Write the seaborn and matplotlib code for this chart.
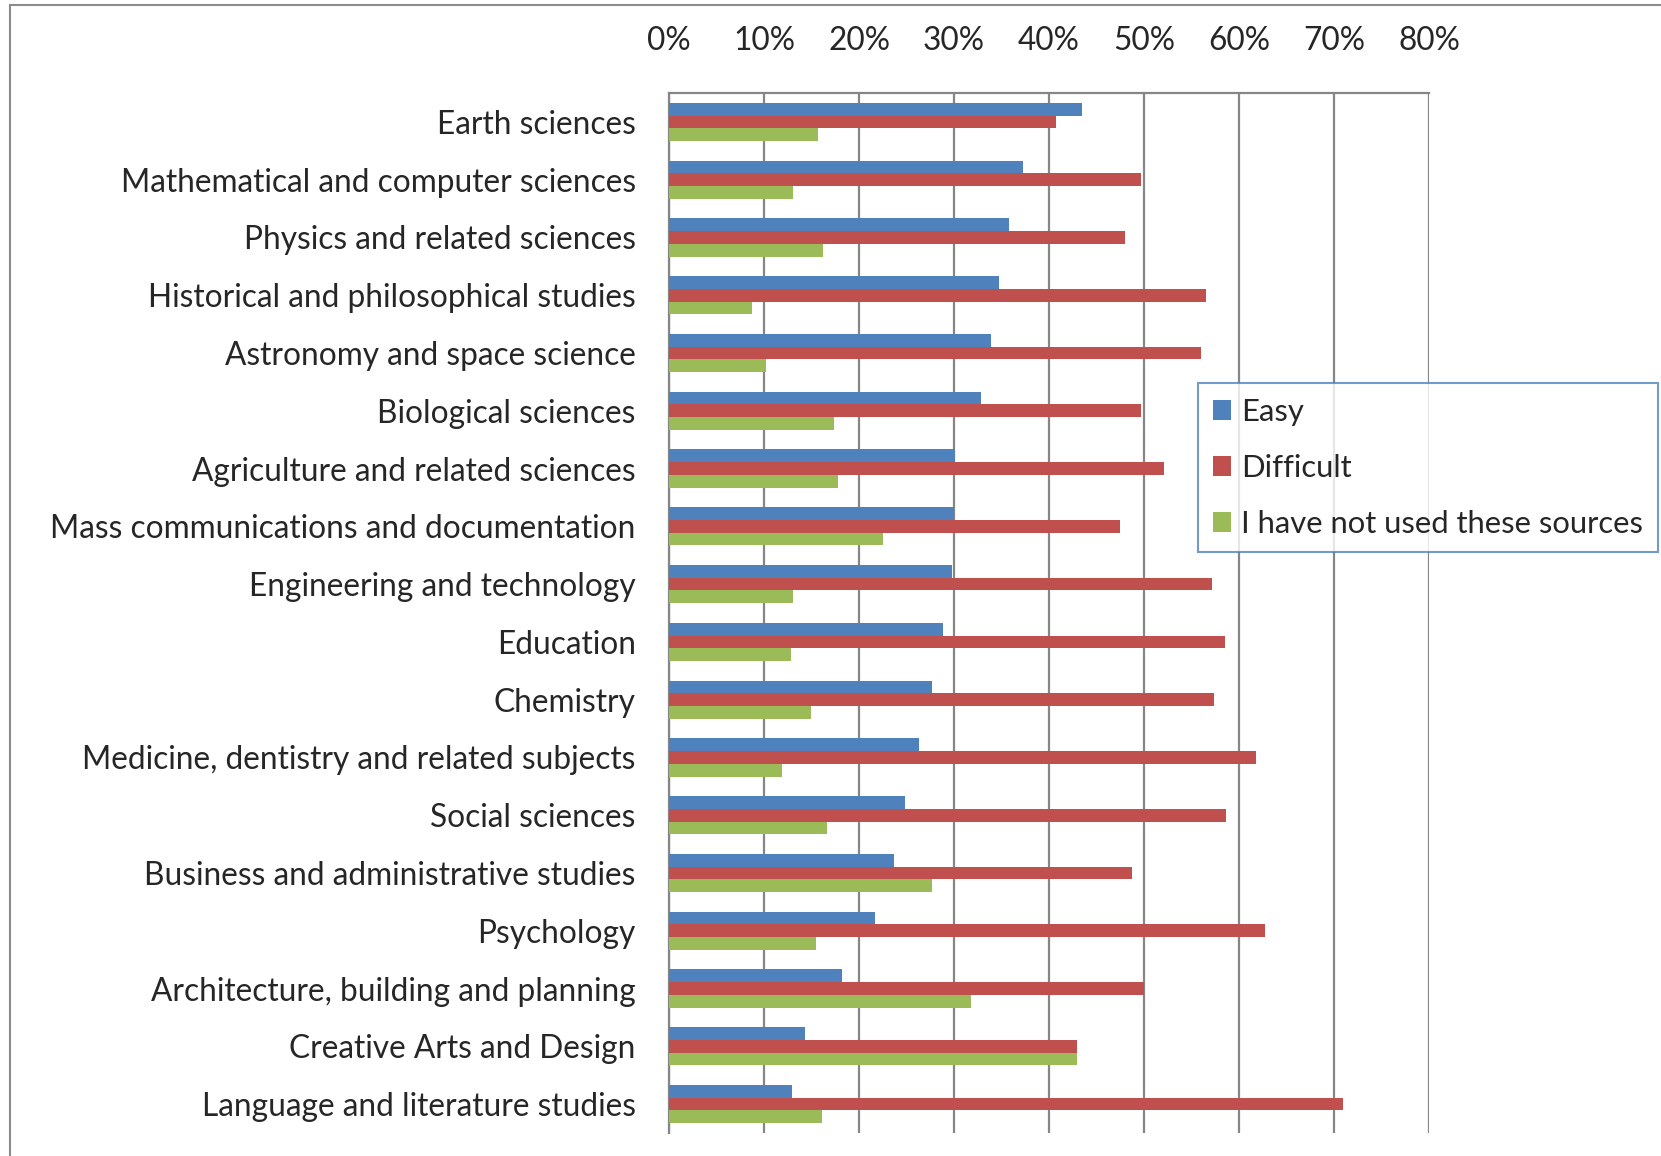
import pandas as pd
import matplotlib
matplotlib.use("Agg")
import matplotlib.pyplot as plt
from matplotlib.patches import Rectangle
import seaborn as sns

fields = [
    "Earth sciences",
    "Mathematical and computer sciences",
    "Physics and related sciences",
    "Historical and philosophical studies",
    "Astronomy and space science",
    "Biological sciences",
    "Agriculture and related sciences",
    "Mass communications and documentation",
    "Engineering and technology",
    "Education",
    "Chemistry",
    "Medicine, dentistry and related subjects",
    "Social sciences",
    "Business and administrative studies",
    "Psychology",
    "Architecture, building and planning",
    "Creative Arts and Design",
    "Language and literature studies",
]
easy = [43.5, 37.3, 35.8, 34.7, 33.9, 32.8, 30.1, 30.0, 29.8, 28.8,
        27.7, 26.3, 24.8, 23.7, 21.7, 18.2, 14.3, 12.9]
difficult = [40.7, 49.7, 48.0, 56.5, 56.0, 49.7, 52.1, 47.5, 57.2, 58.5,
             57.4, 61.8, 58.6, 48.7, 62.7, 50.0, 42.9, 70.9]
not_used = [15.7, 13.0, 16.2, 8.7, 10.2, 17.4, 17.8, 22.5, 13.0, 12.8,
            14.9, 11.9, 16.6, 27.7, 15.5, 31.8, 42.9, 16.1]
series = ["Easy", "Difficult", "I have not used these sources"]
colors = ["#4F81BD", "#C0504D", "#9BBB59"]
x_ticks = [0, 10, 20, 30, 40, 50, 60, 70, 80]

rows = []
for name, vals in zip(series, [easy, difficult, not_used]):
    for f, v in zip(fields, vals):
        rows.append((f, name, v))
df = pd.DataFrame(rows, columns=["field", "response", "value"])

sns.set_style("white")
plt.rcParams["font.family"] = ["Lato", "DejaVu Sans"]
FS = 22.8

fig = plt.figure(figsize=(16.61, 11.56), dpi=100)
ax = fig.add_axes([669 / 1661, 23 / 1156, 760 / 1661, 1040 / 1156])

sns.barplot(data=df, y="field", x="value", hue="response", hue_order=series,
            order=fields, palette=colors, saturation=1, width=0.66,
            orient="h", ax=ax, zorder=3, linewidth=0)

ax.set_xlim(0, 80)
ax.set_xticks(x_ticks)
ax.set_xticklabels([f"{t}%" for t in x_ticks])
ax.xaxis.tick_top()
ax.tick_params(axis="x", length=0, pad=27, labelsize=FS)
ax.tick_params(axis="y", length=0, pad=24, labelsize=FS)
ax.set_xlabel("")
ax.set_ylabel("")
ax.grid(axis="x", color="#868686", linewidth=1.6, zorder=0)
ax.set_axisbelow(True)
for side in ["bottom", "right"]:
    ax.spines[side].set_visible(False)
for side in ["top", "left"]:
    ax.spines[side].set_color("#868686")
    ax.spines[side].set_linewidth(1.6)

handles, labels = ax.get_legend_handles_labels()
ax.legend(handles, labels, loc="upper left",
          bbox_to_anchor=(1198 / 1661, (1156 - 383) / 1156),
          bbox_transform=fig.transFigure, fontsize=22.3, frameon=True,
          fancybox=False, edgecolor="#4F81BD", handlelength=0.6,
          handleheight=0.6, handletextpad=0.3, labelspacing=0.9,
          borderpad=0.48, borderaxespad=0)
ax.get_legend().get_frame().set_linewidth(1.5)

# outer chart border
fig.patches.append(Rectangle((10 / 1661, -0.05), 1.1, (1156 - 5) / 1156 + 0.05,
                             transform=fig.transFigure, fill=False,
                             edgecolor="#8c8c8c", linewidth=1.5))

fig.savefig("out.png", dpi=100)
